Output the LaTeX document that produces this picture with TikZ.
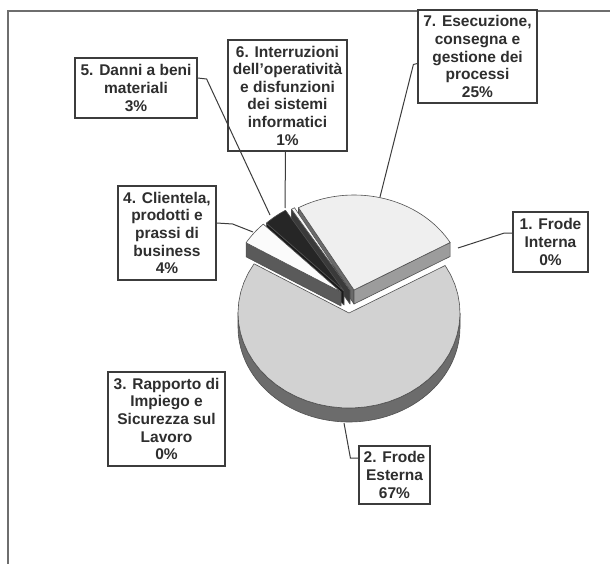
\documentclass[tikz,border=0pt]{standalone}
\usepackage{fontspec}
\setmainfont{Liberation Sans}
\definecolor{framec}{HTML}{6E6E6E}
\definecolor{boxc}{HTML}{3C3C3C}
\definecolor{textc}{HTML}{2E2E2E}
\definecolor{edgec}{HTML}{505050}
\definecolor{stwotop}{HTML}{D2D2D2}
\definecolor{stwoside}{HTML}{6C6C6C}
\definecolor{ssevtop}{HTML}{EFEFEF}
\definecolor{ssevfa}{HTML}{9C9C9C}
\definecolor{ssevfb}{HTML}{6A6A6A}
\definecolor{ssixtop}{HTML}{F6F6F6}
\definecolor{ssixface}{HTML}{3A3A3A}
\definecolor{sfivetop}{HTML}{262626}
\definecolor{sfiveface}{HTML}{1A1A1A}
\definecolor{sfourtop}{HTML}{FBFBFB}
\definecolor{sfourface}{HTML}{5A5A5A}
\newcommand\wedgetop[5]{\filldraw[#5] (#1,#2) -- plot[domain=#3:#4,samples=40] ({#1+111*cos(\x)},{#2-95*sin(\x)}) -- cycle;}
\newcommand\wedgeface[4]{\filldraw[#4] (#1,#2) -- ++({111*cos(#3)},{-95*sin(#3)}) -- ++(0,14) -- ({#1},{#2+14}) -- cycle;}
\begin{document}
\begin{tikzpicture}[x=1pt,y=-1pt,
  lbl/.style={draw=boxc, line width=1.2pt, fill=white, align=center, inner sep=0pt,
    text=textc, font=\bfseries\fontsize{15.5}{17.6}\selectfont},
  leader/.style={draw=boxc, line width=1pt},
  pieedge/.style={draw=edgec, line width=0.6pt, line join=round}]
\useasboundingbox (0,0) rectangle (610,564);
\fill[white] (0,0) rectangle (610,564);
\draw[framec, line width=1.5pt] (8,564) -- (8,11) -- (610,11);
% slice 7 (25%)
\wedgeface{354}{290}{120}{pieedge, fill=ssevfb}
\wedgeface{354}{290}{30}{pieedge, fill=ssevfa}
\wedgetop{354}{290}{30}{120}{pieedge, fill=ssevtop}
% slice 6 (1%)
\wedgeface{350}{290}{121.8}{pieedge, fill=ssixface}
\wedgetop{350}{290}{120}{121.8}{pieedge, fill=ssixtop}
% slice 5 (3%)
\wedgeface{344}{291}{134.4}{pieedge, fill=sfiveface}
\wedgetop{344}{291}{121.8}{134.4}{pieedge, fill=sfivetop}
% slice 4 (4%)
\wedgeface{341}{292}{148.8}{pieedge, fill=sfourface}
\wedgetop{341}{292}{134.4}{148.8}{pieedge, fill=sfourtop}
% slice 2 (67%)
\filldraw[pieedge, fill=stwoside] plot[domain=180:360,samples=60] ({349+111*cos(\x)},{313-95*sin(\x)})
  -- plot[domain=360:180,samples=60] ({349+111*cos(\x)},{327-95*sin(\x)}) -- cycle;
\wedgetop{349}{313}{148.8}{390}{pieedge, fill=stwotop}
% labels
\node[lbl, minimum width=75pt, minimum height=60pt] (b1) at (550.5,242) {1. Frode\\Interna\\0\%};
\node[lbl, minimum width=71pt, minimum height=58pt] (b2) at (394.5,475) {2. Frode\\Esterna\\67\%};
\node[lbl, minimum width=117pt, minimum height=94pt] (b3) at (166.5,419) {3. Rapporto di\\Impiego e\\Sicurezza sul\\Lavoro\\0\%};
\node[lbl, minimum width=98pt, minimum height=94pt] (b4) at (167,233) {4. Clientela,\\prodotti e\\prassi di\\business\\4\%};
\node[lbl, minimum width=122pt, minimum height=60pt] (b5) at (136,88) {5. Danni a beni\\materiali\\3\%};
\node[lbl, minimum width=119pt, minimum height=111pt] (b6) at (287.5,95.5) {6. Interruzioni\\dell’operatività\\e disfunzioni\\dei sistemi\\informatici\\1\%};
\node[lbl, minimum width=119pt, minimum height=93pt] (b7) at (477.5,56.5) {7. Esecuzione,\\consegna e\\gestione dei\\processi\\25\%};
% leader ends
\coordinate (e1) at (458,248);
\coordinate (e2) at (344,423);
\coordinate (e4) at (253,232);
\coordinate (e5) at (270,215);
\coordinate (e6) at (285,208);
\coordinate (e7) at (380,197);
\draw[leader] ([yshift=9pt]b1.west) -- ++(-8,0) -- (e1);
\draw[leader] ([yshift=17pt]b2.west) -- ++(-8,0) -- (e2);
\draw[leader] ([yshift=10pt]b4.east) -- ++(16,1) -- (e4);
\draw[leader] ([yshift=10pt]b5.east) -- ++(9,1) -- (e5);
\draw[leader] ([xshift=-2pt]b6.south) -- (e6);
\draw[leader] ([yshift=-7pt]b7.west) -- ++(-4,1) -- (e7);
\end{tikzpicture}
\end{document}
